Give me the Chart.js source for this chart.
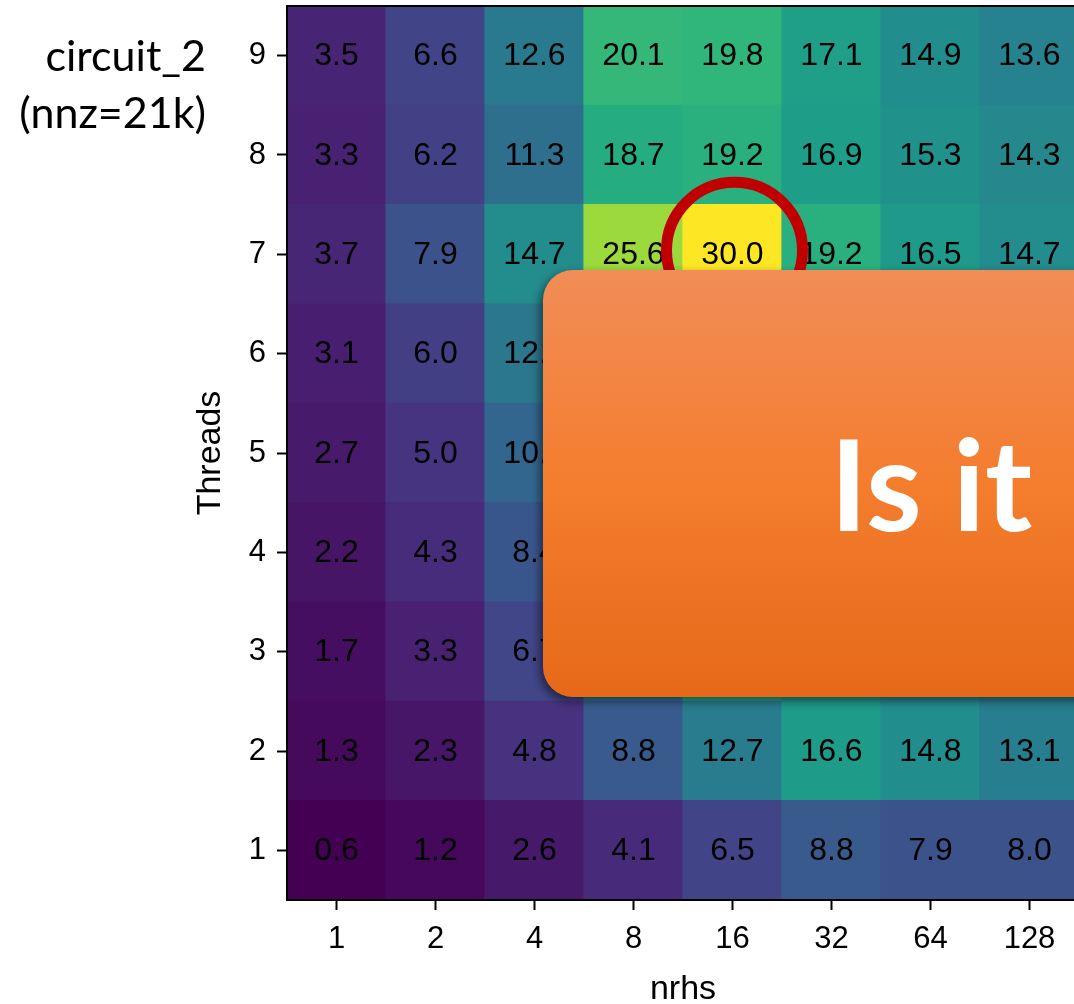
<!DOCTYPE html>
<html>
<head>
<meta charset="utf-8">
<script src="https://cdn.jsdelivr.net/npm/chart.js@4.4.1/dist/chart.umd.min.js"></script>
<style>
  html, body { margin: 0; padding: 0; background: #fff; overflow: hidden; }
  #wrap { width: 1099px; height: 1010px; }
</style>
</head>
<body>
<div id="wrap"><canvas id="c" width="1099" height="1010"></canvas></div>
<script>
// nrhs columns and thread rows
const nrhs = ['1', '2', '4', '8', '16', '32', '64', '128'];
const threads = [1, 2, 3, 4, 5, 6, 7, 8, 9];

// speedup per thread count, one value per nrhs column
const t1 = [0.6, 1.2, 2.6, 4.1, 6.5, 8.8, 7.9, 8.0];
const t2 = [1.3, 2.3, 4.8, 8.8, 12.7, 16.6, 14.8, 13.1];
const t3 = [1.7, 3.3, 6.7, 12.5, 18.0, 15.5, 14.0, 13.0];
const t4 = [2.2, 4.3, 8.4, 15.2, 19.0, 17.0, 15.0, 13.5];
const t5 = [2.7, 5.0, 10.2, 18.5, 21.5, 17.8, 15.8, 14.0];
const t6 = [3.1, 6.0, 12.2, 22.0, 24.5, 18.5, 16.0, 14.5];
const t7 = [3.7, 7.9, 14.7, 25.6, 30.0, 19.2, 16.5, 14.7];
const t8 = [3.3, 6.2, 11.3, 18.7, 19.2, 16.9, 15.3, 14.3];
const t9 = [3.5, 6.6, 12.6, 20.1, 19.8, 17.1, 14.9, 13.6];
const speedup = [t1, t2, t3, t4, t5, t6, t7, t8, t9];

const matrixTitle = 'circuit_2';
const matrixInfo = '(nnz=21k)';
const bannerText = 'Is it';

// viridis colour map
const VIRIDIS = ['#440154','#471365','#482475','#463480','#414487','#3b528b','#355f8d',
  '#2f6c8e','#2a788e','#25848e','#21918c','#1e9c89','#22a884','#2fb47c','#44bf70',
  '#5ec962','#7ad151','#9bd93c','#bddf26','#dfe318','#fde725'];
function hexToRgb(h) { return [1, 3, 5].map(i => parseInt(h.substr(i, 2), 16)); }
function viridis(t) {
  t = Math.max(0, Math.min(1, t));
  const p = t * (VIRIDIS.length - 1);
  const i = Math.min(Math.floor(p), VIRIDIS.length - 2);
  const f = p - i;
  const a = hexToRgb(VIRIDIS[i]), b = hexToRgb(VIRIDIS[i + 1]);
  const c = a.map((v, k) => Math.round(v + (b[k] - v) * f));
  return `rgb(${c[0]},${c[1]},${c[2]})`;
}
const allVals = speedup.flat();
const vmin = Math.min(...allVals), vmax = Math.max(...allVals);
const norm = v => (v - vmin) / (vmax - vmin);

const FONT = '"Liberation Sans", Arial, Helvetica, sans-serif';

const datasets = speedup.map((row, i) => ({
  label: String(threads[i]),
  data: row.map(() => [threads[i] - 0.5, threads[i] + 0.5]),
  backgroundColor: row.map(v => viridis(norm(v))),
  borderWidth: 0,
  barPercentage: 1,
  categoryPercentage: 1,
  grouped: false,
  inflateAmount: 0.6
}));

// value labels, frame and highlight ring on top of the cells
const cellDecor = {
  id: 'cellDecor',
  afterDatasetsDraw(chart) {
    const ctx = chart.ctx;
    const area = chart.chartArea;
    ctx.save();
    ctx.font = '32px ' + FONT;
    ctx.fillStyle = '#000';
    ctx.textAlign = 'center';
    ctx.textBaseline = 'middle';
    chart.data.datasets.forEach((ds, di) => {
      chart.getDatasetMeta(di).data.forEach((bar, j) => {
        const p = bar.getProps(['x', 'y', 'base'], true);
        ctx.fillText(speedup[di][j].toFixed(1), p.x, (p.y + p.base) / 2 + 1);
      });
    });
    // frame
    ctx.strokeStyle = '#000';
    ctx.lineWidth = 2;
    ctx.strokeRect(area.left, area.top, area.right - area.left, area.bottom - area.top);
    // ring around the best cell
    let best = { r: 0, c: 0, v: -Infinity };
    speedup.forEach((row, r) => row.forEach((v, c) => { if (v > best.v) best = { r, c, v }; }));
    const cx = chart.scales.x.getPixelForValue(best.c) + 2;
    const cy = chart.scales.y.getPixelForValue(threads[best.r]) - 4;
    ctx.beginPath();
    ctx.arc(cx, cy, 68, 0, Math.PI * 2);
    ctx.strokeStyle = '#C00000';
    ctx.lineWidth = 11;
    ctx.stroke();
    ctx.restore();
  },
  afterDraw(chart) {
    const ctx = chart.ctx;
    ctx.save();
    // matrix name on the left
    ctx.fillStyle = '#000';
    ctx.textAlign = 'right';
    ctx.textBaseline = 'alphabetic';
    ctx.font = '43px Lato, "Open Sans", sans-serif';
    ctx.fillText(matrixTitle, 206, 71);
    ctx.fillText(matrixInfo, 206, 128);
    // orange banner
    const bx = 543, by = 270, bw = 640, bh = 427, rad = 30;
    ctx.beginPath();
    ctx.moveTo(bx + rad, by);
    ctx.lineTo(bx + bw - rad, by);
    ctx.arcTo(bx + bw, by, bx + bw, by + rad, rad);
    ctx.lineTo(bx + bw, by + bh - rad);
    ctx.arcTo(bx + bw, by + bh, bx + bw - rad, by + bh, rad);
    ctx.lineTo(bx + rad, by + bh);
    ctx.arcTo(bx, by + bh, bx, by + bh - rad, rad);
    ctx.lineTo(bx, by + rad);
    ctx.arcTo(bx, by, bx + rad, by, rad);
    ctx.closePath();
    const g = ctx.createLinearGradient(0, by, 0, by + bh);
    g.addColorStop(0, '#F18D58');
    g.addColorStop(0.5, '#F47D2E');
    g.addColorStop(1, '#E66919');
    ctx.fillStyle = g;
    ctx.shadowColor = 'rgba(0,0,0,0.5)';
    ctx.shadowBlur = 10;
    ctx.shadowOffsetX = -3;
    ctx.shadowOffsetY = 4;
    ctx.fill();
    ctx.shadowColor = 'transparent';
    ctx.fillStyle = '#fff';
    ctx.textAlign = 'left';
    ctx.font = 'bold 127px Lato, "Open Sans", sans-serif';
    ctx.fillText(bannerText, 830, 531);
    ctx.restore();
  }
};

new Chart(document.getElementById('c'), {
  type: 'bar',
  data: { labels: nrhs, datasets },
  options: {
    responsive: false,
    animation: false,
    layout: { padding: { left: 190, top: 6, right: 20, bottom: 0 } },
    plugins: { legend: { display: false }, tooltip: { enabled: false } },
    scales: {
      x: {
        type: 'category',
        offset: true,
        grid: { display: true, drawOnChartArea: false, offset: false, tickLength: 10, tickColor: '#000', tickWidth: 2 },
        border: { display: false },
        ticks: { color: '#000', font: { size: 31, family: FONT }, padding: 11, maxRotation: 0, autoSkip: false },
        title: { display: true, text: 'nrhs', color: '#000', font: { size: 34, family: FONT }, padding: 0 },
        afterFit(s) { s.height = 110; s.paddingLeft = 0; s.paddingRight = 0; }
      },
      y: {
        type: 'linear',
        min: 0.5,
        max: 9.5,
        afterBuildTicks(s) { s.ticks = threads.map(v => ({ value: v })); },
        grid: { display: true, drawOnChartArea: false, tickLength: 10, tickColor: '#000', tickWidth: 2 },
        border: { display: false },
        ticks: { color: '#000', font: { size: 31, family: FONT }, padding: 11 },
        title: { display: true, text: 'Threads', color: '#000', font: { size: 34, family: FONT }, padding: 0 },
        afterFit(s) { s.width = 97; s.paddingTop = 0; s.paddingBottom = 0; }
      }
    }
  },
  plugins: [cellDecor]
});
</script>
</body>
</html>
